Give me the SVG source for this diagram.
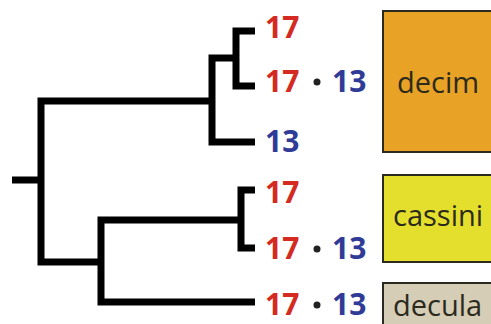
<svg xmlns="http://www.w3.org/2000/svg" width="491" height="324" viewBox="0 0 491 324">
  <style>
    .branch { fill: none; stroke: #000; stroke-width: 7; stroke-linejoin: miter; stroke-linecap: butt; }
    .num { font-family: "Open Sans", "Liberation Sans", sans-serif; font-weight: bold; font-size: 30px; }
    .r { fill: #d52a21; }
    .b { fill: #2f3b96; }
    .dot { fill: #222; }
    .box { stroke: #2a2a20; stroke-width: 2; }
    .lbl { font-family: "Open Sans", "Liberation Sans", sans-serif; font-size: 29px; fill: #2b2a1c; }
  </style>
  <rect width="491" height="324" fill="#fff"/>

  <!-- tree branches -->
  <g id="connectors">
    <path class="branch" d="M12,180 H41"/>
    <path class="branch" d="M212,101 H41 V262 H101"/>
    <path class="branch" d="M236,58 H212 V142 H255"/>
    <path class="branch" d="M255,31 H236 V86 H255"/>
    <path class="branch" d="M241,220 H101 V302 H255"/>
    <path class="branch" d="M255,190 H241 V248 H255"/>
  </g>

  <!-- tip labels -->
  <g id="tip1"><text class="num r" x="265" y="38">17</text></g>
  <g id="tip2">
    <text class="num r" x="265" y="92">17</text>
    <circle class="dot" cx="317" cy="82" r="3.5"/>
    <text class="num b" x="332" y="92">13</text>
  </g>
  <g id="tip3"><text class="num b" x="265" y="152">13</text></g>
  <g id="tip4"><text class="num r" x="265" y="203">17</text></g>
  <g id="tip5">
    <text class="num r" x="265" y="259">17</text>
    <circle class="dot" cx="317" cy="249" r="3.5"/>
    <text class="num b" x="332" y="259">13</text>
  </g>
  <g id="tip6">
    <text class="num r" x="265" y="315">17</text>
    <circle class="dot" cx="317" cy="305" r="3.5"/>
    <text class="num b" x="332" y="315">13</text>
  </g>

  <!-- species group boxes -->
  <g id="decim">
    <rect class="box" x="383" y="11" width="120" height="141" fill="#e8a226"/>
    <text class="lbl" x="397" y="93">decim</text>
  </g>
  <g id="cassini">
    <rect class="box" x="383" y="175" width="120" height="87" fill="#e4df2c"/>
    <text class="lbl" x="393" y="226">cassini</text>
  </g>
  <g id="decula">
    <rect class="box" x="383" y="283" width="120" height="60" fill="#d6cdb6"/>
    <text class="lbl" x="393" y="316">decula</text>
  </g>
</svg>
